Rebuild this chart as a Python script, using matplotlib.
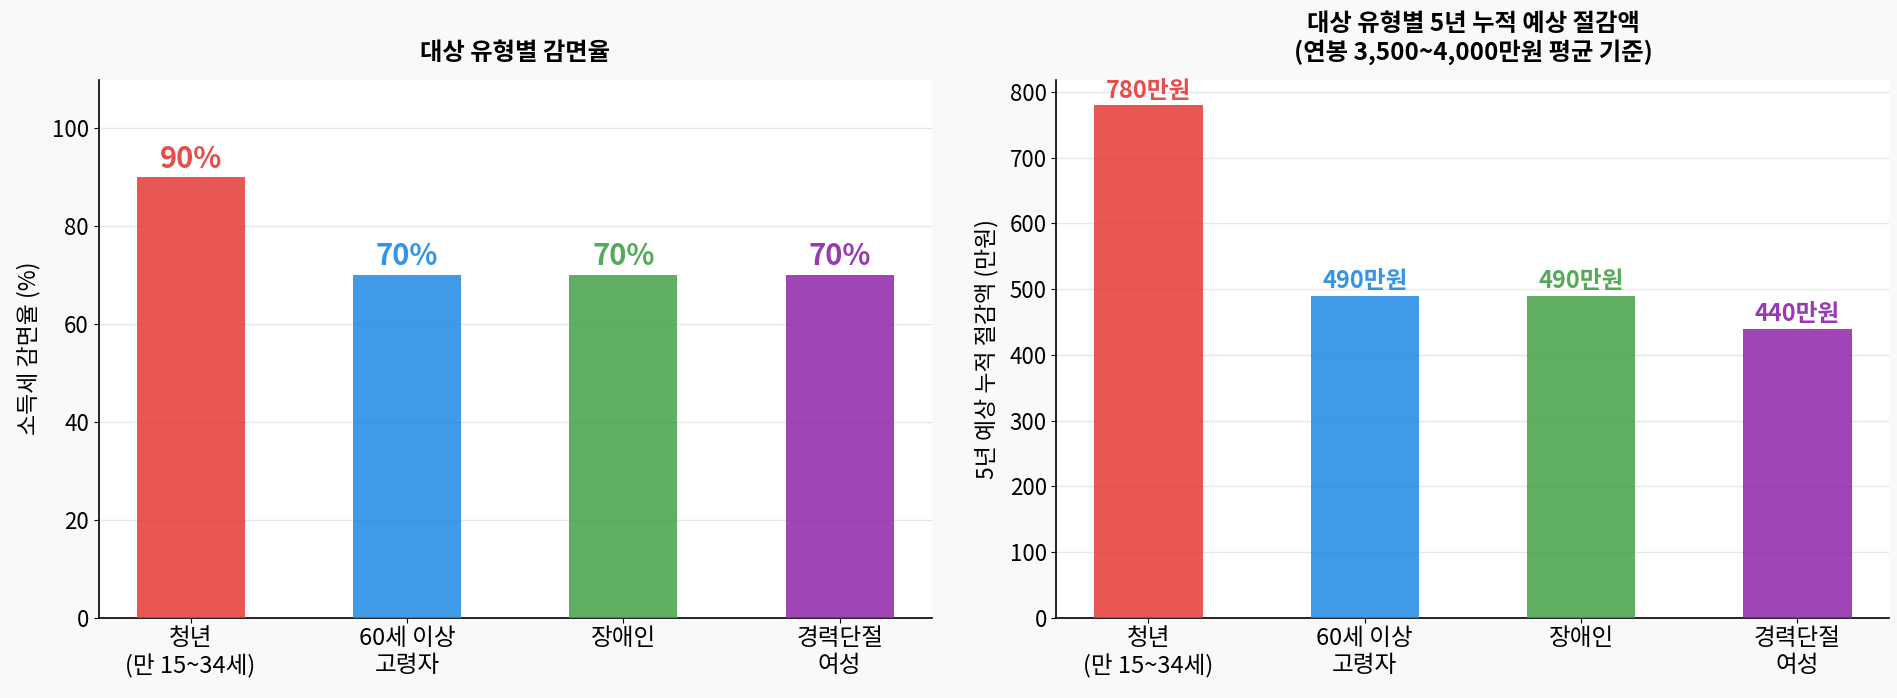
import matplotlib
matplotlib.use('Agg')
import matplotlib.pyplot as plt
import numpy as np

plt.rcParams['font.family'] = ['Noto Sans CJK KR', 'DejaVu Sans']

categories = ['청년\n(만 15~34세)', '60세 이상\n고령자', '장애인', '경력단절\n여성']
reduction_rates = [90, 70, 70, 70]
savings_5yr = [780, 490, 490, 440]
colors = ['#E53935', '#1E88E5', '#43A047', '#8E24AA']

fig, (ax1, ax2) = plt.subplots(1, 2, figsize=(18.97, 6.98), dpi=100)
fig.patch.set_facecolor('#f8f9fa')

x = np.arange(len(categories))

# left: reduction rate
ax1.bar(x, reduction_rates, width=0.5, color=colors, alpha=0.85, zorder=3)
for xi, v, c in zip(x, reduction_rates, colors):
    ax1.text(xi, v + 0.8, f'{v}%', ha='center', va='bottom',
             fontsize=21, fontweight='bold', color=c, alpha=0.9)
ax1.set_ylim(0, 110)
ax1.set_ylabel('소득세 감면율 (%)', fontsize=16.5, labelpad=8)
ax1.set_title('대상 유형별 감면율', fontsize=17.5, fontweight='bold', pad=14)

# right: 5-year savings
ax2.bar(x, savings_5yr, width=0.5, color=colors, alpha=0.85, zorder=3)
for xi, v, c in zip(x, savings_5yr, colors):
    ax2.text(xi, v + 4, f'{v}만원', ha='center', va='bottom',
             fontsize=17, fontweight='bold', color=c, alpha=0.9)
ax2.set_ylim(0, max(savings_5yr) * 1.05)
ax2.set_ylabel('5년 예상 누적 절감액 (만원)', fontsize=16.5, labelpad=8)
ax2.set_title('대상 유형별 5년 누적 예상 절감액\n(연봉 3,500~4,000만원 평균 기준)',
              fontsize=17.5, fontweight='bold', pad=14)

for ax in (ax1, ax2):
    ax.set_xticks(x)
    ax.set_xticklabels(categories, fontsize=17)
    ax.tick_params(axis='y', labelsize=16)
    ax.set_facecolor('white')
    ax.grid(axis='y', color='#e6e6e6', linewidth=1, zorder=0)
    ax.spines['top'].set_visible(False)
    ax.spines['right'].set_visible(False)
    ax.spines['left'].set_linewidth(1.2)
    ax.spines['bottom'].set_linewidth(1.2)

plt.subplots_adjust(left=0.052, right=0.996, bottom=0.115, top=0.886, wspace=0.15)
fig.savefig('out.png', dpi=100, facecolor=fig.get_facecolor())
